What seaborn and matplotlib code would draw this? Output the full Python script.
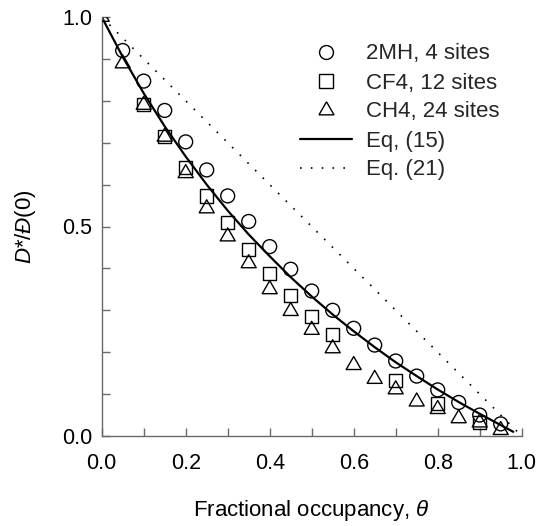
import numpy as np
import pandas as pd
import matplotlib
matplotlib.use("Agg")
import matplotlib.pyplot as plt
from matplotlib.ticker import MultipleLocator
from matplotlib.lines import Line2D
import seaborn as sns

# ---- data ----
theta_2mh = [0.05, 0.10, 0.15, 0.20, 0.25, 0.30, 0.35, 0.40, 0.45, 0.50,
             0.55, 0.60, 0.65, 0.70, 0.75, 0.80, 0.85, 0.90, 0.95]
val_2mh = [0.920, 0.847, 0.777, 0.702, 0.635, 0.573, 0.512, 0.452, 0.398, 0.346,
           0.300, 0.257, 0.217, 0.179, 0.143, 0.110, 0.080, 0.050, 0.029]

theta_cf4 = [0.10, 0.15, 0.20, 0.25, 0.30, 0.35, 0.40, 0.45, 0.50, 0.55,
             0.70, 0.80, 0.90]
val_cf4 = [0.792, 0.714, 0.641, 0.573, 0.509, 0.446, 0.388, 0.336, 0.286, 0.243,
           0.132, 0.078, 0.033]

theta_ch4 = [0.00, 0.05, 0.10, 0.15, 0.20, 0.25, 0.30, 0.35, 0.40, 0.45,
             0.50, 0.55, 0.60, 0.65, 0.70, 0.75, 0.80, 0.85, 0.90, 0.95]
val_ch4 = [1.000, 0.889, 0.790, 0.714, 0.627, 0.543, 0.476, 0.412, 0.350, 0.298,
           0.253, 0.209, 0.169, 0.136, 0.111, 0.082, 0.064, 0.042, 0.032, 0.014]

theta_eq15 = [0.00, 0.05, 0.10, 0.15, 0.20, 0.25, 0.30, 0.35, 0.40, 0.45, 0.50,
              0.55, 0.60, 0.65, 0.70, 0.75, 0.80, 0.85, 0.90, 0.95, 0.98]
val_eq15 = [1.000, 0.905, 0.818, 0.739, 0.667, 0.600, 0.538, 0.481, 0.429, 0.379, 0.333,
            0.290, 0.250, 0.212, 0.176, 0.143, 0.111, 0.081, 0.053, 0.026, 0.010]

theta_eq21 = [0.0, 1.0]
val_eq21 = [1.0, 0.0]

labels = ["2MH, 4 sites", "CF4, 12 sites", "CH4, 24 sites", "Eq, (15)", "Eq. (21)"]
x_ticks = [0.0, 0.2, 0.4, 0.6, 0.8, 1.0]
y_ticks = [0.0, 0.5, 1.0]

# ---- style ----
sns.set_theme(style="ticks")
plt.rcParams["font.family"] = ["Liberation Sans", "DejaVu Sans"]
plt.rcParams["mathtext.fontset"] = "custom"
plt.rcParams["mathtext.rm"] = "Liberation Sans"
plt.rcParams["mathtext.it"] = "Liberation Sans:italic"
plt.rcParams["mathtext.bf"] = "Liberation Sans:bold"

W, H = 544, 526
fig = plt.figure(figsize=(W / 100, H / 100), dpi=100)
ax_l, ax_r, ax_t, ax_b = 101.7, 521.7, 17.0, 436.0
ax = fig.add_axes([ax_l / W, 1 - ax_b / H, (ax_r - ax_l) / W, (ax_b - ax_t) / H])

grey = "#6a6a6a"
dot_style = (0, (1, 5.5))

# lines
sns.lineplot(x=theta_eq15, y=val_eq15, ax=ax, color="black", linewidth=1.6,
             sort=False, estimator=None)
sns.lineplot(x=theta_eq21, y=val_eq21, ax=ax, color="black", linewidth=1.2,
             sort=False, estimator=None)
ax.lines[-1].set_linestyle(dot_style)

# markers
tri = (3, 0, 0)
sns.scatterplot(x=theta_2mh, y=val_2mh, ax=ax, marker="o", s=100,
                facecolor="none", edgecolor="black", linewidth=1.0, zorder=3)
sns.scatterplot(x=theta_cf4, y=val_cf4, ax=ax, marker="s", s=90,
                facecolor="none", edgecolor="black", linewidth=1.0, zorder=3)
sns.scatterplot(x=theta_ch4, y=val_ch4, ax=ax, marker=tri, s=156,
                facecolor="none", edgecolor="black", linewidth=1.0, zorder=3)
if ax.get_legend() is not None:
    ax.get_legend().remove()

ax.set_xlim(0, 1)
ax.set_ylim(0, 1)
ax.set_xticks(x_ticks)
ax.set_xticklabels([f"{t:.1f}" for t in x_ticks])
ax.set_yticks(y_ticks)
ax.set_yticklabels([f"{t:.1f}" for t in y_ticks])
ax.xaxis.set_minor_locator(MultipleLocator(0.1))
ax.yaxis.set_minor_locator(MultipleLocator(0.1))

for side in ["top", "right"]:
    ax.spines[side].set_visible(False)
for side in ["left", "bottom"]:
    ax.spines[side].set_color(grey)
    ax.spines[side].set_linewidth(1.0)

ax.tick_params(axis="both", which="both", direction="in", length=5.8,
               width=1.0, color=grey, labelcolor="black", labelsize=15.5)
ax.tick_params(axis="x", which="both", pad=12)
ax.tick_params(axis="y", which="both", pad=7)

ax.set_xlabel(r"Fractional occupancy, $\theta$", fontsize=16, color="black")
ax.xaxis.set_label_coords(0.5, -0.148)
ax.set_ylabel(r"$D$*/$Đ$(0)", fontsize=16, color="black")
ax.yaxis.set_label_coords(-0.152, 0.5)

# legend
handles = [
    Line2D([], [], marker="o", ls="none", markersize=10, mfc="none", mec="black", mew=1.0),
    Line2D([], [], marker="s", ls="none", markersize=9.5, mfc="none", mec="black", mew=1.0),
    Line2D([], [], marker=tri, ls="none", markersize=12.5, mfc="none", mec="black", mew=1.0),
    Line2D([], [], color="black", lw=1.6),
    Line2D([], [], color="black", lw=1.2, ls=dot_style),
]
fig.legend(handles, labels, loc="upper left", bbox_to_anchor=(300 / W, 1 - 43.5 / H),
           frameon=False, fontsize=16, handlelength=2.34, handletextpad=0.62,
           labelspacing=0.36, borderpad=0, borderaxespad=0)

fig.savefig("out.png", dpi=100)
